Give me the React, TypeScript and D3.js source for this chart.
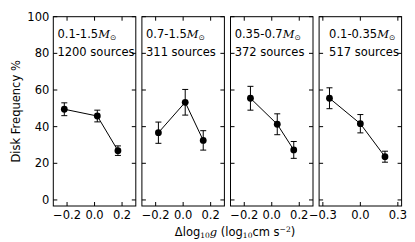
import React from 'react'
import * as d3 from 'd3'

// panel data
const massLabels = ['0.1-1.5', '0.7-1.5', '0.35-0.7', '0.1-0.35']
const sourceCounts = [1200, 311, 372, 517]
const loggOffsets = [
  [-0.22, 0.02, 0.17],
  [-0.18, 0.015, 0.146],
  [-0.155, 0.04, 0.16],
  [-0.247, 0.0, 0.197],
]
const diskFreq = [
  [49.5, 45.8, 26.9],
  [36.7, 53.3, 32.5],
  [55.5, 41.3, 27.3],
  [55.5, 41.6, 23.6],
]
const freqErr = [
  [3.5, 3.2, 2.6],
  [5.8, 7.0, 5.3],
  [6.5, 5.7, 4.6],
  [5.7, 5.0, 3.0],
]
const xDomains = [[-0.3, 0.3], [-0.3, 0.3], [-0.3, 0.3], [-0.33, 0.33]]
const xTickVals = [[-0.2, 0, 0.2], [-0.2, 0, 0.2], [-0.2, 0, 0.2], [-0.3, 0, 0.3]]
const labelX = [-0.27, -0.27, -0.27, -0.25]
const yTickVals = [0, 20, 40, 60, 80, 100]

const W = 415
const H = 242
const top = 16.7
const bottom = 206
const firstLeft = 53.3
const panelW = 82.5
const step = 88.6
const font = 'DejaVu Sans, sans-serif'
const fs = 11.5

const fmt = (v: number) => (v < 0 ? '\u2212' : '') + Math.abs(v).toFixed(1)

export default function App() {
  const y = d3.scaleLinear().domain([-3.3, 100]).range([bottom, top])
  const tl = 4
  return (
    <svg width={W} height={H} style={{ position: 'absolute', left: 0, top: 0, background: '#fff' }}>
      {massLabels.map((m, p) => {
        const left = firstLeft + p * step
        const x = d3.scaleLinear().domain(xDomains[p]).range([left, left + panelW])
        const line = d3.line<number>().x((d, i) => x(loggOffsets[p][i])).y(d => y(d))(diskFreq[p])
        return (
          <g key={p}>
            {yTickVals.map(v => (
              <g key={v}>
                <line x1={left} x2={left + tl} y1={y(v)} y2={y(v)} stroke="#000" />
                <line x1={left + panelW - tl} x2={left + panelW} y1={y(v)} y2={y(v)} stroke="#000" />
                {p === 0 && (
                  <text x={left - 4} y={y(v)} dy="0.36em" textAnchor="end" fontFamily={font} fontSize={fs}>{v}</text>
                )}
              </g>
            ))}
            {xTickVals[p].map(v => (
              <g key={v}>
                <line x1={x(v)} x2={x(v)} y1={bottom} y2={bottom - tl} stroke="#000" />
                <line x1={x(v)} x2={x(v)} y1={top} y2={top + tl} stroke="#000" />
                <text x={x(v)} y={bottom + 13} textAnchor="middle" fontFamily={font} fontSize={fs}>{fmt(v)}</text>
              </g>
            ))}
            <path d={line || ''} fill="none" stroke="#000" strokeWidth={1} />
            {diskFreq[p].map((f, i) => {
              const cx = x(loggOffsets[p][i])
              const e = freqErr[p][i]
              return (
                <g key={i}>
                  <line x1={cx} x2={cx} y1={y(f - e)} y2={y(f + e)} stroke="#000" />
                  <line x1={cx - 3} x2={cx + 3} y1={y(f - e)} y2={y(f - e)} stroke="#000" />
                  <line x1={cx - 3} x2={cx + 3} y1={y(f + e)} y2={y(f + e)} stroke="#000" />
                  <circle cx={cx} cy={y(f)} r={3.4} fill="#000" />
                </g>
              )
            })}
            <text x={x(labelX[p])} y={y(88.5)} fontFamily={font} fontSize={fs}>
              {m}
              <tspan fontFamily="DejaVu Serif, serif" fontStyle="italic">M</tspan>
              <tspan fontSize={7.5} dy={2}>{'\u2299'}</tspan>
            </text>
            <text x={x(labelX[p])} y={y(78.5)} fontFamily={font} fontSize={fs}>{sourceCounts[p]} sources</text>
            <rect x={left} y={top} width={panelW} height={bottom - top} fill="none" stroke="#000" strokeWidth={1} />
          </g>
        )
      })}
      <text
        transform={`translate(20,${(top + bottom) / 2}) rotate(-90)`}
        textAnchor="middle"
        fontFamily={font}
        fontSize={fs}
      >
        Disk Frequency %
      </text>
      <text x={235} y={236} textAnchor="middle" fontFamily={font} fontSize={fs}>
        {'\u0394log'}
        <tspan fontSize={7.5} fontFamily="DejaVu Serif, serif" dy={2}>10</tspan>
        <tspan fontFamily="DejaVu Serif, serif" fontStyle="italic" dy={-2}>g</tspan>
        <tspan>{' (log'}</tspan>
        <tspan fontSize={7.5} fontFamily="DejaVu Serif, serif" dy={2}>10</tspan>
        <tspan dy={-2}>{'cm s'}</tspan>
        <tspan fontSize={7.5} fontFamily="DejaVu Serif, serif" dy={-4}>{'\u22122'}</tspan>
        <tspan dy={4}>)</tspan>
      </text>
    </svg>
  )
}
